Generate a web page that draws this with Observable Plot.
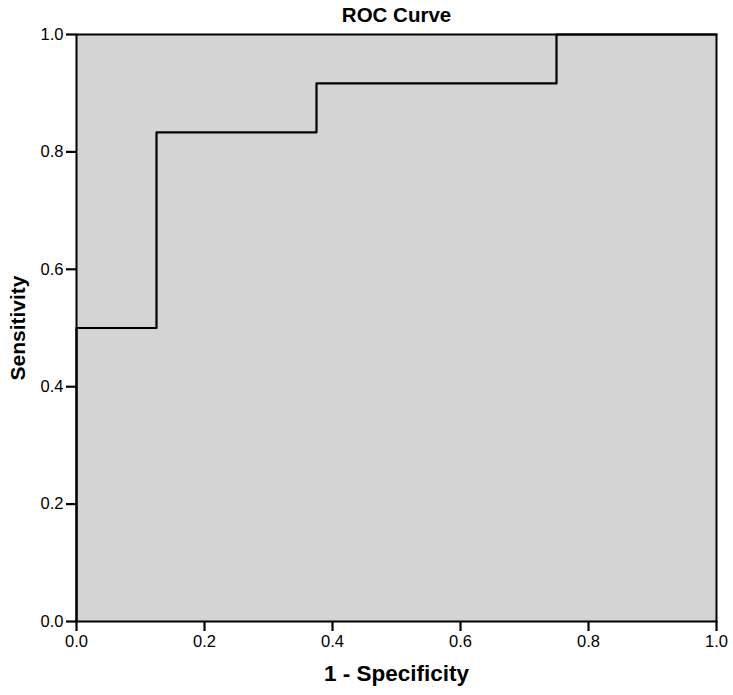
<!DOCTYPE html>
<html>
<head>
<meta charset="utf-8">
<script src="https://cdn.jsdelivr.net/npm/d3@7"></script>
<script src="https://cdn.jsdelivr.net/npm/@observablehq/plot@0.6"></script>
<style>
  html, body { margin: 0; padding: 0; background: #fff; }
  svg { font-family: "Liberation Sans", Arial, sans-serif; }
</style>
</head>
<body>
<div id="chart"></div>
<script>
const fpr = [0, 0, 0.125, 0.125, 0.375, 0.375, 0.75, 0.75, 1];
const tpr = [0, 0.5, 0.5, 0.8333, 0.8333, 0.9167, 0.9167, 1, 1];
const ticks = [0, 0.2, 0.4, 0.6, 0.8, 1.0];
const titleText = "ROC Curve";
const xLabel = "1 - Specificity";
const yLabel = "Sensitivity";

const data = fpr.map((x, i) => ({x, y: tpr[i]}));

const chart = Plot.plot({
  width: 733,
  height: 695,
  marginLeft: 76,
  marginRight: 17,
  marginTop: 34,
  marginBottom: 74,
  style: {fontFamily: "'Liberation Sans', Arial, sans-serif", fontSize: "16px", color: "#000", background: "#fff"},
  x: {domain: [0, 1], ticks, tickFormat: d3.format(".1f"), label: null},
  y: {domain: [0, 1], ticks, tickFormat: d3.format(".1f"), label: null},
  marks: [
    Plot.frame({fill: "#d4d4d4", stroke: "none"}),
    Plot.axisX({ticks, tickFormat: d3.format(".1f"), tickSize: 10, tickPadding: 4, strokeWidth: 2.2, label: null, fontSize: 16}),
    Plot.axisY({ticks, tickFormat: d3.format(".1f"), tickSize: 10, tickPadding: 3, strokeWidth: 2.2, label: null, fontSize: 16}),
    Plot.line(data, {x: "x", y: "y", stroke: "#000", strokeWidth: 2.2}),
    Plot.frame({stroke: "#000", strokeWidth: 2}),
    Plot.text([titleText], {frameAnchor: "top", lineAnchor: "middle", dy: -19.5, fontWeight: "bold", fontSize: 20.5}),
    Plot.text([xLabel], {frameAnchor: "bottom", lineAnchor: "middle", dy: 52, fontWeight: "bold", fontSize: 22.5}),
    Plot.text([yLabel], {frameAnchor: "left", textAnchor: "middle", lineAnchor: "middle", dx: -58.5, rotate: -90, fontWeight: "bold", fontSize: 21})
  ]
});
d3.select(chart).selectAll("text").each(function() {
  if (/^\d\.\d$/.test(this.textContent)) this.style.fontSize = "16.5px";
});
document.getElementById("chart").appendChild(chart);
</script>
</body>
</html>
